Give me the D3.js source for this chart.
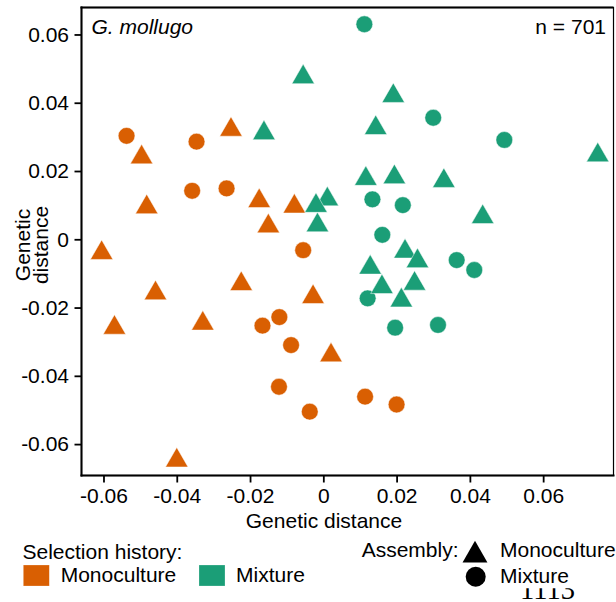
<!DOCTYPE html>
<html>
<head>
<meta charset="utf-8">
<script src="https://cdn.jsdelivr.net/npm/d3@7"></script>
<style>
  html, body { margin: 0; padding: 0; background: #fff; }
  svg { display: block; }
  text { font-family: "Liberation Sans", Arial, Helvetica, sans-serif; fill: #000; }
</style>
</head>
<body>
<svg id="chart" width="616" height="602"></svg>
<script>
// ---- data ----
// Triangles: assembly = Monoculture
const triX = [-0.0055, -0.0496, -0.0252, -0.0162, -0.0482, -0.0175, -0.0150, -0.0079,
              -0.0605, -0.0458, -0.0570, -0.0224, -0.0329, -0.0400, -0.0028, 0.0021,
               0.0223,  0.0257,  0.0128,  0.0160,  0.0249,  0.0213,  0.0191, 0.0143,
               0.0749,  0.0116,  0.0194,  0.0329,  0.0435,  0.0011, -0.0020, -0.0016];
const triY = [ 0.0475,  0.0240,  0.0321,  0.0311,  0.0094,  0.0112,  0.0038,  0.0096,
              -0.0040, -0.0158, -0.0259, -0.0131, -0.0247, -0.0648, -0.0169, -0.0340,
              -0.0036, -0.0064, -0.0083, -0.0140, -0.0130, -0.0179,  0.0420,  0.0326,
               0.0246,  0.0177,  0.0182,  0.0171,  0.0065,  0.0117,  0.0098,  0.0041];
const triSel = ["Mixture","Monoculture","Monoculture","Mixture","Monoculture","Monoculture","Monoculture","Monoculture",
                "Monoculture","Monoculture","Monoculture","Monoculture","Monoculture","Monoculture","Monoculture","Monoculture",
                "Mixture","Mixture","Mixture","Mixture","Mixture","Mixture","Mixture","Mixture",
                "Mixture","Mixture","Mixture","Mixture","Mixture","Mixture","Mixture","Mixture"];
// Circles: assembly = Mixture
const cirX = [-0.0537, -0.0346, -0.0358, -0.0264, -0.0055, -0.0120, -0.0166, -0.0088,
              -0.0121, -0.0037,  0.0114,  0.0200,
               0.0112,  0.0300,  0.0494,  0.0134,  0.0217,  0.0161,  0.0364,  0.0412,
               0.0121,  0.0196,  0.0313];
const cirY = [ 0.0303,  0.0286,  0.0142,  0.0149, -0.0032, -0.0228, -0.0253, -0.0310,
              -0.0432, -0.0505, -0.0461, -0.0484,
               0.0630,  0.0356,  0.0291,  0.0117,  0.0100,  0.0013, -0.0061, -0.0090,
              -0.0173, -0.0259, -0.0251];
const cirSel = ["Monoculture","Monoculture","Monoculture","Monoculture","Monoculture","Monoculture","Monoculture","Monoculture",
                "Monoculture","Monoculture","Monoculture","Monoculture",
                "Mixture","Mixture","Mixture","Mixture","Mixture","Mixture","Mixture","Mixture",
                "Mixture","Mixture","Mixture"];

const xTicks = [-0.06, -0.04, -0.02, 0, 0.02, 0.04, 0.06];
const yTicks = [-0.06, -0.04, -0.02, 0, 0.02, 0.04, 0.06];
const selLevels = ["Monoculture", "Mixture"];
const selColors = ["#D95F02", "#1B9E77"];
const panelTitle = "G. mollugo";
const panelN = "n = 701";
const axisTitle = "Genetic distance";

// ---- layout ----
const svg = d3.select("#chart");
const L = 81.5, R = 613.5, T = 7.5, B = 475.5;
const FS = 21;

const x = d3.scaleLinear().domain([-0.066, 0.0792]).range([L, R]);
const y = d3.scaleLinear().domain([-0.0692, 0.0679]).range([B, T]);
const color = d3.scaleOrdinal().domain(selLevels).range(selColors);
const fmt = v => v === 0 ? "0" : v.toFixed(2);

// page number peeking from below (its top is hidden behind the figure)
svg.append("defs").append("clipPath").attr("id", "pgclip")
  .append("rect").attr("x", 505).attr("y", 588.3).attr("width", 111).attr("height", 14);
svg.append("text").attr("x", 520).attr("y", 598.5).attr("font-size", 28.5)
  .attr("clip-path", "url(#pgclip)")
  .style("font-family", "'Liberation Serif', 'Times New Roman', serif").text("1113");

// panel background
svg.append("rect").attr("x", L).attr("y", T).attr("width", R - L).attr("height", B - T)
  .attr("fill", "#fff").attr("stroke", "#000").attr("stroke-width", 1.2);

// axes
const gx = svg.append("g").attr("transform", `translate(0,${B})`)
  .call(d3.axisBottom(x).tickValues(xTicks).tickFormat(fmt).tickSize(7).tickPadding(5.5).tickSizeOuter(0));
const gy = svg.append("g").attr("transform", `translate(${L},0)`)
  .call(d3.axisLeft(y).tickValues(yTicks).tickFormat(fmt).tickSize(7).tickPadding(5.5).tickSizeOuter(0));
[gx, gy].forEach(g => {
  g.select(".domain").remove();
  g.selectAll(".tick line").attr("stroke", "#000").attr("stroke-width", 1.8);
  g.selectAll(".tick text").attr("font-size", FS).attr("font-family", "Liberation Sans, Arial, sans-serif").attr("fill", "#000");
});

// thick frame lines (left, bottom, top)
svg.append("line").attr("x1", L).attr("x2", L).attr("y1", T - 1).attr("y2", B + 1).attr("stroke", "#000").attr("stroke-width", 2);
svg.append("line").attr("x1", L - 1).attr("x2", R + 1).attr("y1", B).attr("y2", B).attr("stroke", "#000").attr("stroke-width", 2);
svg.append("line").attr("x1", L - 1).attr("x2", R).attr("y1", T).attr("y2", T).attr("stroke", "#000").attr("stroke-width", 2);

// points
const triSym = d3.symbol().type(d3.symbolTriangle).size(220);
const pts = svg.append("g");
pts.selectAll("circle").data(cirX.map((v, i) => ({x: v, y: cirY[i], s: cirSel[i]})))
  .join("circle")
  .attr("cx", d => x(d.x)).attr("cy", d => y(d.y)).attr("r", 8.4)
  .attr("fill", d => color(d.s)).attr("stroke", "#fff").attr("stroke-width", 0.5);
pts.selectAll("path").data(triX.map((v, i) => ({x: v, y: triY[i], s: triSel[i]})))
  .join("path")
  .attr("d", triSym)
  .attr("transform", d => `translate(${x(d.x)},${y(d.y)})`)
  .attr("fill", d => color(d.s)).attr("stroke", "#fff").attr("stroke-width", 0.5);

// panel labels
svg.append("text").attr("x", 91.5).attr("y", 33.5).attr("font-size", FS).attr("font-style", "italic").text(panelTitle);
svg.append("text").attr("x", 606).attr("y", 33.5).attr("font-size", FS).attr("text-anchor", "end").text(panelN);

// axis titles
svg.append("text").attr("x", 324).attr("y", 528).attr("font-size", FS).attr("text-anchor", "middle").text(axisTitle);
const yt = axisTitle.split(" ");
svg.append("text").attr("transform", "translate(30,245) rotate(-90)").attr("font-size", FS).attr("text-anchor", "middle").text(yt[0]);
svg.append("text").attr("transform", "translate(48,245) rotate(-90)").attr("font-size", FS).attr("text-anchor", "middle").text(yt[1]);

// legend: selection history
svg.append("text").attr("x", 22.5).attr("y", 559).attr("font-size", FS).text("Selection history:");
const legX = [23.3, 199];
const legTX = [60.7, 236];
selLevels.forEach((s, i) => {
  svg.append("rect").attr("x", legX[i]).attr("y", 565).attr("width", 26).attr("height", 21)
    .attr("fill", color(s)).attr("stroke", "#fff").attr("stroke-opacity", 0.4).attr("stroke-width", 0.6);
  svg.append("text").attr("x", legTX[i]).attr("y", 582.3).attr("font-size", FS).text(s);
});

// legend: assembly
svg.append("text").attr("x", 361.7).attr("y", 556.5).attr("font-size", FS).text("Assembly:");
svg.append("path").attr("d", d3.symbol().type(d3.symbolTriangle).size(268)())
  .attr("transform", "translate(475,555.2)").attr("fill", "#000");
svg.append("circle").attr("cx", 475.7).attr("cy", 576.7).attr("r", 10).attr("fill", "#000");
svg.append("text").attr("x", 500).attr("y", 556.5).attr("font-size", FS).text("Monoculture");
svg.append("text").attr("x", 500).attr("y", 583).attr("font-size", FS).text("Mixture");
</script>
</body>
</html>
